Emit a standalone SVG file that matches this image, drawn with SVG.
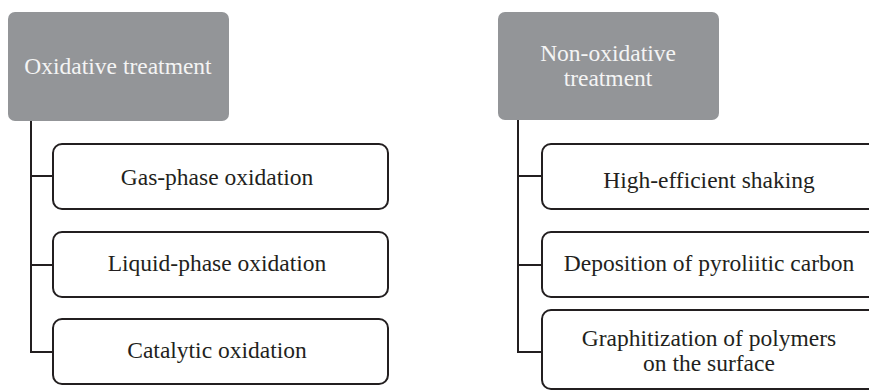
<svg xmlns="http://www.w3.org/2000/svg" width="869" height="391" viewBox="0 0 869 391">
<style>
.hdr{fill:#939598;}
.box{fill:#ffffff;stroke:#231f20;stroke-width:2;}
.con{fill:none;stroke:#231f20;stroke-width:2;}
text{font-size:23.5px;text-anchor:middle;}
.ht{fill:#f4f4f4;}
.bt{fill:#231f20;}
</style>
<rect width="869" height="391" fill="#ffffff"/>
<g id="connectors">
<path class="con" d="M31 121 V352 H53 M31 176 H53 M31 265 H53"/>
<path class="con" d="M518 120 V352 H542 M518 176 H542 M518 265 H542"/>
</g>
<g font-family="Liberation Serif, DejaVu Serif, serif">
<g id="oxidative">
<rect class="hdr" x="8" y="12" width="221" height="109" rx="7"/>
<text class="ht" x="118" y="74">Oxidative treatment</text>
</g>
<g id="gas-phase">
<rect class="box" x="53" y="144" width="335" height="65" rx="9"/>
<text class="bt" x="217" y="185">Gas-phase oxidation</text>
</g>
<g id="liquid-phase">
<rect class="box" x="53" y="232" width="335" height="65" rx="9"/>
<text class="bt" x="217" y="271">Liquid-phase oxidation</text>
</g>
<g id="catalytic">
<rect class="box" x="53" y="319" width="335" height="65" rx="9"/>
<text class="bt" x="217" y="358">Catalytic oxidation</text>
</g>
<g id="non-oxidative">
<rect class="hdr" x="498" y="12" width="221" height="108" rx="7"/>
<text class="ht" x="608" y="61">Non-oxidative</text>
<text class="ht" x="608" y="86">treatment</text>
</g>
<g id="shaking">
<rect class="box" x="542" y="144" width="335" height="65" rx="9"/>
<text class="bt" x="709" y="188">High-efficient shaking</text>
</g>
<g id="pyrolytic">
<rect class="box" x="542" y="232" width="335" height="65" rx="9"/>
<text class="bt" x="709" y="271">Deposition of pyroliitic carbon</text>
</g>
<g id="graphitization">
<rect class="box" x="542" y="310" width="335" height="79" rx="9"/>
<text class="bt" x="709" y="346">Graphitization of polymers</text>
<text class="bt" x="709" y="371">on the surface</text>
</g>
</g>
</svg>
